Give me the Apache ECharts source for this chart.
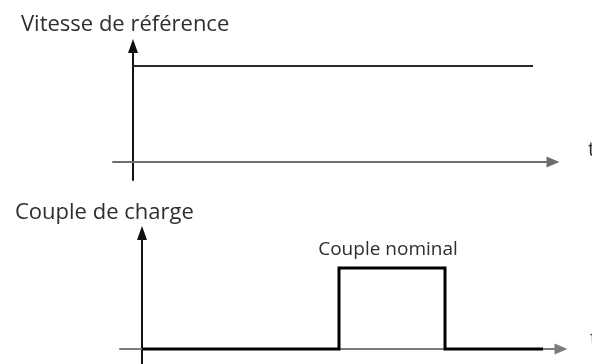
<!DOCTYPE html>
<html>
<head>
<meta charset="utf-8">
<script src="https://cdn.jsdelivr.net/npm/echarts@6/dist/echarts.min.js"></script>
<style>
  html, body { margin: 0; padding: 0; background: #fff; }
  #chart { width: 592px; height: 364px; }
</style>
</head>
<body>
<div id="chart"></div>
<script type="text/javascript">
// vitesse de reference : echelon des t=0
var vitesseT = [0, 40];
var vitesseV = [1, 1];
// couple de charge : impulsion (couple nominal)
var coupleT = [0, 19.7, 19.7, 30.3, 30.3, 40.1];
var coupleV = [0, 0, 1, 1, 0, 0];
var titres = ['Vitesse de référence', 'Couple de charge'];
var labelNominal = 'Couple nominal';

function paires(xs, ys) {
	var out = [];
	for (var i = 0; i < xs.length; i++) { out.push([xs[i], ys[i]]); }
	return out;
}

var police = 'Open Sans';
var gris = '#2e2e2e';

var chart = echarts.init(document.getElementById('chart'));
var option = {
	animation: false,
	backgroundColor: '#fff',
	title: [
		{ text: titres[0], left: 16, top: 9, textStyle: { fontFamily: police, fontSize: 22, fontWeight: 'normal', color: gris } },
		{ text: titres[1], left: 10, top: 197, textStyle: { fontFamily: police, fontSize: 22, fontWeight: 'normal', color: gris } }
	],
	grid: [
		{ left: 113, top: 46, width: 440, height: 134, outerBoundsMode: 'none' },
		{ left: 120, top: 233, width: 441, height: 131, outerBoundsMode: 'none' }
	],
	xAxis: [
		{
			gridIndex: 0, type: 'value', min: -2, max: 42,
			name: 't', nameLocation: 'end', nameGap: 35,
			nameTextStyle: { fontFamily: police, fontSize: 20, color: gris, align: 'left', verticalAlign: 'bottom', padding: [0, 0, 2, 0] },
			axisLine: { show: true, symbol: ['none', 'triangle'], symbolSize: [11, 13], lineStyle: { color: '#6e6e6e', width: 2 } },
			axisTick: { show: false }, axisLabel: { show: false }, splitLine: { show: false }
		},
		{
			gridIndex: 1, type: 'value', min: -2.2, max: 41.9,
			name: 't', nameLocation: 'end', nameGap: 29,
			nameTextStyle: { fontFamily: police, fontSize: 20, color: gris, align: 'left', verticalAlign: 'bottom', padding: [0, 0, 0, 0] },
			axisLine: { show: true, symbol: ['none', 'triangle'], symbolSize: [11, 13], lineStyle: { color: '#7a7a7a', width: 2 } },
			axisTick: { show: false }, axisLabel: { show: false }, splitLine: { show: false }
		}
	],
	yAxis: [
		{
			gridIndex: 0, type: 'value', min: -0.1875, max: 1.2083,
			axisLine: { show: true, symbol: ['none', 'triangle'], symbolSize: [10, 14], lineStyle: { color: '#111', width: 2 } },
			axisTick: { show: false }, axisLabel: { show: false }, splitLine: { show: false }
		},
		{
			gridIndex: 1, type: 'value', min: -0.185, max: 1.432,
			axisLine: { show: true, symbol: ['none', 'triangle'], symbolSize: [10, 14], lineStyle: { color: '#111', width: 2 } },
			axisTick: { show: false }, axisLabel: { show: false }, splitLine: { show: false }
		}
	],
	series: [
		{
			type: 'line', xAxisIndex: 0, yAxisIndex: 0,
			data: paires(vitesseT, vitesseV),
			symbol: 'none', lineStyle: { color: '#2b2b2b', width: 2 }
		},
		{
			type: 'line', xAxisIndex: 1, yAxisIndex: 1,
			data: paires(coupleT, coupleV),
			symbol: 'none', lineStyle: { color: '#000', width: 3, join: 'miter' },
			markPoint: {
				symbol: 'circle', symbolSize: 0,
				data: [{ coord: [24.6, 1] }],
				label: { show: true, position: 'top', distance: 9, formatter: labelNominal, fontFamily: police, fontSize: 19, color: gris }
			}
		}
	]
};
chart.setOption(option);
</script>
</body>
</html>
